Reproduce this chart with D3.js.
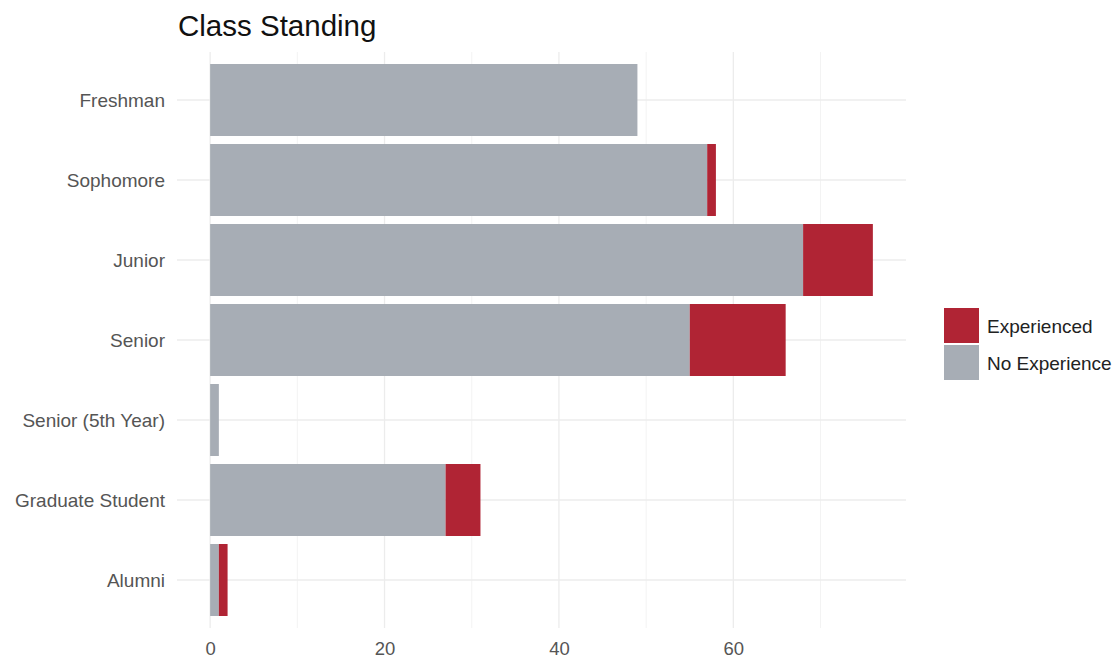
<!DOCTYPE html>
<html>
<head>
<meta charset="utf-8">
<script src="https://cdn.jsdelivr.net/npm/d3@7"></script>
<style>
  body { margin: 0; background: #fff; }
  svg { font-family: "Liberation Sans", Arial, sans-serif; }
</style>
</head>
<body>
<svg id="chart" width="1120" height="660"></svg>
<script>
const categories = ["Freshman", "Sophomore", "Junior", "Senior", "Senior (5th Year)", "Graduate Student", "Alumni"];
const noExperience = [49, 57, 68, 55, 1, 27, 1];
const experienced = [0, 1, 8, 11, 0, 4, 1];
const xTicks = [0, 20, 40, 60];
const xMinor = [10, 30, 50, 70];
const seriesNames = ["Experienced", "No Experience"];
const seriesColors = ["#B02434", "#A7ADB5"];

const svg = d3.select("#chart");
const panel = { left: 177, right: 906, top: 52, bottom: 628 };

const totals = categories.map((c, i) => noExperience[i] + experienced[i]);
const maxT = d3.max(totals);
const x = d3.scaleLinear().domain([-0.05 * maxT, maxT * 1.05]).range([panel.left, panel.right]);

const n = categories.length;
const step = (panel.bottom - panel.top) / (n - 1 + 1.2);
const yCenter = d3.scalePoint().domain(categories).range([panel.top + 0.6 * step, panel.bottom - 0.6 * step]);
const barH = step * 0.9;

// grid
const g = svg.append("g");
g.selectAll("line.minor").data(xMinor).join("line")
  .attr("x1", d => x(d)).attr("x2", d => x(d))
  .attr("y1", panel.top).attr("y2", panel.bottom)
  .attr("stroke", "#f3f3f3").attr("stroke-width", 1);
g.selectAll("line.major").data(xTicks).join("line")
  .attr("x1", d => x(d)).attr("x2", d => x(d))
  .attr("y1", panel.top).attr("y2", panel.bottom)
  .attr("stroke", "#ececec").attr("stroke-width", 1.3);
g.selectAll("line.hy").data(categories).join("line")
  .attr("x1", panel.left).attr("x2", panel.right)
  .attr("y1", d => yCenter(d)).attr("y2", d => yCenter(d))
  .attr("stroke", "#ececec").attr("stroke-width", 1.3);

// bars
const bars = svg.append("g");
categories.forEach((c, i) => {
  const yTop = yCenter(c) - barH / 2;
  bars.append("rect")
    .attr("x", x(0)).attr("y", yTop)
    .attr("width", x(noExperience[i]) - x(0)).attr("height", barH)
    .attr("fill", seriesColors[1]);
  if (experienced[i] > 0) {
    bars.append("rect")
      .attr("x", x(noExperience[i])).attr("y", yTop)
      .attr("width", x(totals[i]) - x(noExperience[i])).attr("height", barH)
      .attr("fill", seriesColors[0]);
  }
});

// axes
const xAxis = d3.axisBottom(x).tickValues(xTicks).tickSize(0).tickPadding(0);
const xg = svg.append("g").attr("transform", `translate(0,${panel.bottom})`).call(xAxis);
xg.select(".domain").remove();
xg.selectAll("text").attr("dy", "0").attr("y", 27)
  .attr("font-size", 18.5).attr("fill", "#555")
  .attr("font-family", "Liberation Sans, Arial, sans-serif");

const yAxis = d3.axisLeft(yCenter).tickSize(0).tickPadding(0);
const yg = svg.append("g").attr("transform", `translate(${panel.left - 12},0)`).call(yAxis);
yg.select(".domain").remove();
yg.selectAll("text").attr("font-size", 19).attr("fill", "#555")
  .attr("font-family", "Liberation Sans, Arial, sans-serif");

// title
svg.append("text").attr("x", 178).attr("y", 36)
  .attr("font-size", 29.5).attr("fill", "#111")
  .text("Class Standing");

// legend
const lg = svg.append("g").attr("transform", "translate(944,308)");
seriesNames.forEach((s, i) => {
  lg.append("rect").attr("x", 0).attr("y", i * 37)
    .attr("width", 35).attr("height", 35).attr("fill", seriesColors[i]);
  lg.append("text").attr("x", 43).attr("y", i * 37 + 18).attr("dy", "0.35em")
    .attr("font-size", 19).attr("fill", "#222").text(s);
});
</script>
</body>
</html>
